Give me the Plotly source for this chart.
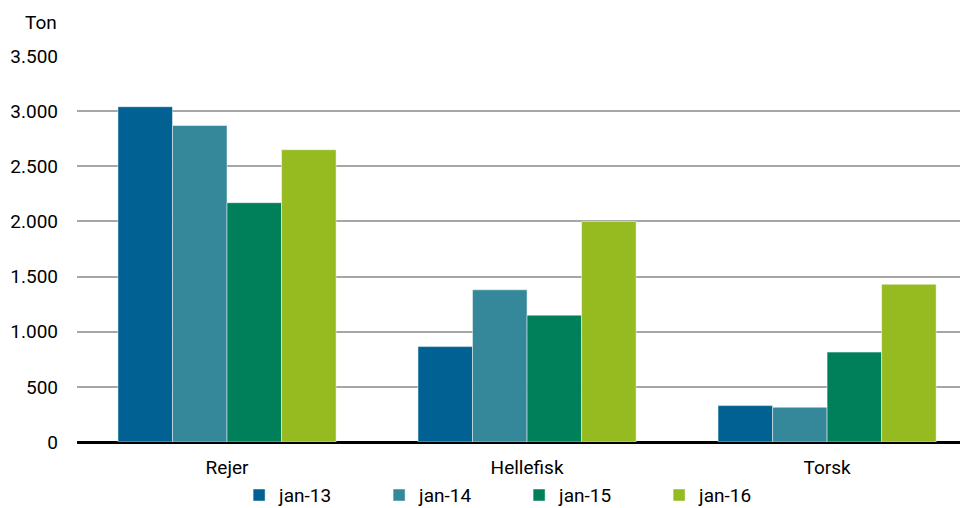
import plotly.graph_objects as go

categories = ["Rejer", "Hellefisk", "Torsk"]
series_names = ["jan-13", "jan-14", "jan-15", "jan-16"]
jan13 = [3040, 865, 330]
jan14 = [2870, 1380, 315]
jan15 = [2170, 1150, 815]
jan16 = [2650, 2000, 1430]
colors = ["#006192", "#358899", "#00805A", "#95BB21"]
y_ticks = [0, 500, 1000, 1500, 2000, 2500, 3000, 3500]

FONT = "Roboto, Liberation Sans, sans-serif"

fig = go.Figure()
for name, vals, c in zip(series_names, [jan13, jan14, jan15, jan16], colors):
    fig.add_trace(go.Bar(
        x=categories, y=vals, name=name,
        marker=dict(color=c, line=dict(color="rgba(255,255,255,0.6)", width=0.8)),
    ))

fig.update_layout(
    width=968, height=508,
    barmode="group", bargap=0.273, bargroupgap=0,
    paper_bgcolor="white", plot_bgcolor="white",
    margin=dict(l=69, r=10, t=48, b=74, autoexpand=False),
    separators=",.",
    font=dict(family=FONT, size=19, color="#000000"),
    xaxis=dict(
        range=[-0.5, 2.463], showgrid=False, showline=False, ticks="",
        tickfont=dict(size=19), ticklabelstandoff=12,
    ),
    yaxis=dict(
        range=[0, 3500], tickvals=y_ticks, tickformat=",d",
        showgrid=True, gridcolor="#A6A6A6", gridwidth=1.5,
        zeroline=True, zerolinecolor="#000000", zerolinewidth=2.5,
        ticks="", ticklabelstandoff=18, tickfont=dict(size=19),
        showline=False,
    ),
    legend=dict(
        orientation="h", xref="container", x=0.528, xanchor="center",
        yref="container", y=0.041, yanchor="middle",
        font=dict(size=19), entrywidth=95, itemwidth=30,
        traceorder="normal",
    ),
    annotations=[dict(
        text="Ton", xref="paper", yref="paper", x=-0.041, y=1.088,
        xanchor="center", yanchor="middle", showarrow=False,
        font=dict(size=19),
    )],
)

fig.write_html("out.html")
